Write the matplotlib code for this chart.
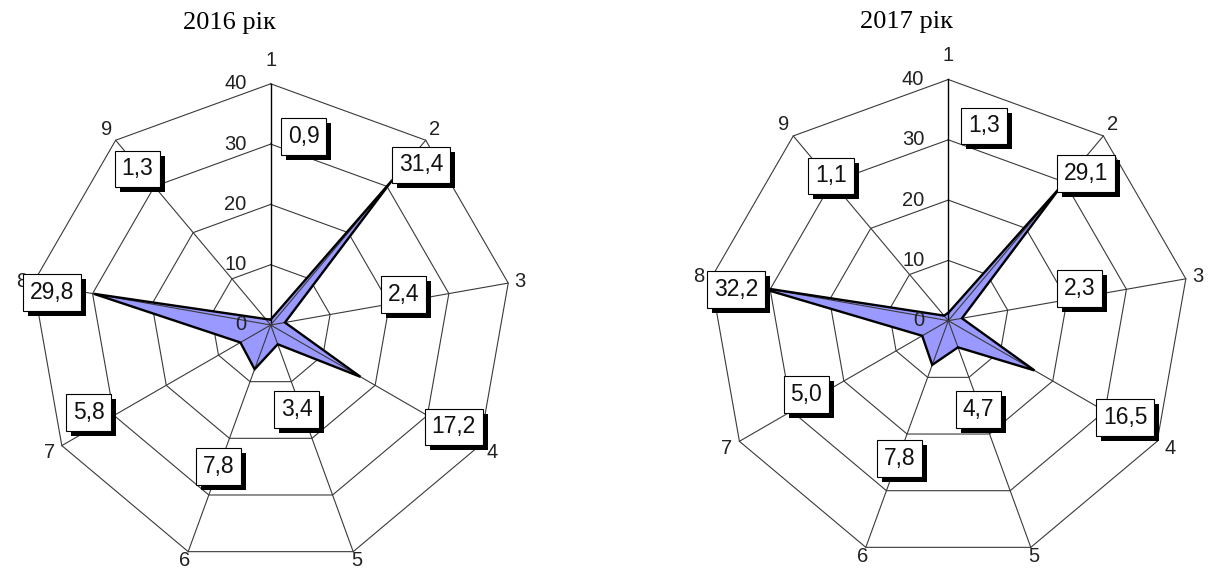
import numpy as np
import matplotlib
matplotlib.use("Agg")
import matplotlib.pyplot as plt
import matplotlib.patheffects as pe

# ---------------- data ----------------
categories = ["1", "2", "3", "4", "5", "6", "7", "8", "9"]
values_2016 = [0.9, 31.4, 2.4, 17.2, 3.4, 7.8, 5.8, 29.8, 1.3]
values_2017 = [1.3, 29.1, 2.3, 16.5, 4.7, 7.8, 5.0, 32.2, 1.1]
titles = ["2016 рік", "2017 рік"]
r_ticks = [0, 10, 20, 30, 40]
r_max = 40

# ---------------- layout ----------------
W, H = 1219, 572
K = 6.03                      # pixels per value unit
centers = [(270.7, 325.0), (948.3, 320.7)]
panel_x = [(0, 600), (600, W)]
# data-label box centres, pixel offsets from chart centre (x right, y down)
label_offsets = [
    [(33.0, -188.3), (150.6, -160.0), (132.8, -30.5), (182.8, 102.0), (26.1, 84.7),
     (-52.5, 141.7), (-182.2, 87.5), (-218.9, -32.5), (-133.2, -156.0)],
    [(35.9, -194.7), (138.0, -147.5), (131.0, -31.9), (177.0, 97.0), (30.2, 89.1),
     (-48.8, 137.5), (-142.0, 73.5), (-212.5, -31.2), (-117.5, -144.7)],
]
# radius (value units) at which each category label sits
cat_label_r = [43.9, 42.4, 42.0, 42.4, 41.6, 41.6, 42.4, 42.0, 42.4]
title_baseline_px = [29.0, 28.3]
title_dx_px = -41.6

FILL = "#9999FF"
GRID = "#3a3a3a"
SANS = ["Liberation Sans", "DejaVu Sans"]
SERIF = ["Liberation Serif", "DejaVu Serif"]

fig = plt.figure(figsize=(W / 100, H / 100), dpi=100)
fig.patch.set_facecolor("white")

n = len(categories)
theta = np.arange(n) * 2 * np.pi / n


def xy(r, th):
    return np.asarray(r) * np.sin(th), np.asarray(r) * np.cos(th)


shadow = [pe.withSimplePatchShadow(offset=(3.6, -3.6), shadow_rgbFace="black", alpha=1.0)]

for idx, (vals, title) in enumerate(zip([values_2016, values_2017], titles)):
    cx, cy = centers[idx]
    x0, x1 = panel_x[idx]
    ax = fig.add_axes([x0 / W, 0, (x1 - x0) / W, 1])
    ax.set_xlim((x0 - cx) / K, (x1 - cx) / K)
    ax.set_ylim((cy - H) / K, cy / K)
    ax.axis("off")

    # polygon rings
    th_closed = np.append(theta, theta[0])
    for rt in r_ticks[1:]:
        gx, gy = xy(np.full(n + 1, rt), th_closed)
        ax.plot(gx, gy, color=GRID, lw=0.8, zorder=1)

    # filled data polygon
    v = np.append(vals, vals[0])
    px, py = xy(v, th_closed)
    ax.fill(px, py, facecolor=FILL, edgecolor="none", zorder=2)
    ax.plot(px, py, color="black", lw=1.7, zorder=4, solid_joinstyle="miter")

    # spokes
    for i, th in enumerate(theta):
        sx, sy = xy([0, r_max], [th, th])
        ax.plot(sx, sy, color="black" if i == 0 else GRID,
                lw=1.0 if i == 0 else 0.8, zorder=3)

    # radial tick labels
    for rt in r_ticks:
        ax.text(-24 / K, rt, str(rt), ha="right", va="center",
                fontsize=14.5, family=SANS, color="#222222", zorder=5)

    # category labels
    for cat, th, rr in zip(categories, theta, cat_label_r):
        lx, ly = xy(rr, th)
        ax.text(lx, ly, cat, ha="center", va="center", fontsize=14.5,
                family=SANS, color="#222222")

    # data labels with drop shadow
    for val, (dx, dy) in zip(vals, label_offsets[idx]):
        txt = f"{val:.1f}".replace(".", ",")
        t = ax.text(dx / K, -dy / K, txt, ha="center", va="center",
                    fontsize=16.5, family=SANS, color="#111111", zorder=7,
                    bbox=dict(boxstyle="square,pad=0.3", fc="white", ec="black", lw=0.8))
        t.get_bbox_patch().set_path_effects(shadow)

    # title
    fig.text((cx + title_dx_px) / W, 1 - title_baseline_px[idx] / H, title,
             ha="center", va="baseline", fontsize=19, family=SERIF, color="black")

fig.savefig("out.png", dpi=100, facecolor="white")
